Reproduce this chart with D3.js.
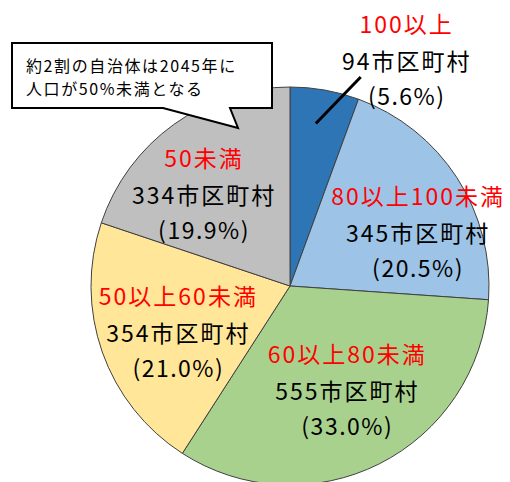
<!DOCTYPE html>
<html>
<head>
<meta charset="utf-8">
<script src="https://cdn.jsdelivr.net/npm/d3@7"></script>
<style>
  body { margin: 0; background: #fff; }
  text { font-family: "Noto Sans CJK JP", "Noto Sans", sans-serif; }
</style>
</head>
<body>
<div id="chart"></div>
<script>
// Data
const categories = ["100以上", "80以上100未満", "60以上80未満", "50以上60未満", "50未満"];
const counts = [94, 345, 555, 354, 334];
const shares = ["5.6%", "20.5%", "33.0%", "21.0%", "19.9%"];
const colors = ["#2E75B6", "#9DC3E6", "#A9D18E", "#FFE699", "#BFBFBF"];
const calloutLines = ["約2割の自治体は2045年に", "人口が50%未満となる"];

// label nudges from the centroid (layout only)
const labelShift = [[94, -98], [19, 17], [-1, -12], [11, 3], [-10, 14]];

function createPie() {
  const width = 510;
  const height = 482;
  const cx = 290, cy = 286, radius = 199;

  const svg = d3.select('#chart')
    .append('svg')
    .attr('width', width)
    .attr('height', height);

  const pie = d3.pie().sort(null).value(d => d.count);
  const arcs = pie(categories.map((c, i) => ({ cat: c, count: counts[i], share: shares[i], i })));

  const arc = d3.arc().innerRadius(0).outerRadius(radius);
  const labelArc = d3.arc().innerRadius(130).outerRadius(130);
  const leaderArc = d3.arc().innerRadius(165).outerRadius(165);

  const g = svg.append('g').attr('transform', `translate(${cx},${cy})`);

  g.selectAll('path.slice')
    .data(arcs)
    .enter()
    .append('path')
    .attr('class', 'slice')
    .attr('d', arc)
    .attr('fill', d => colors[d.data.i])
    .attr('stroke', '#404040')
    .attr('stroke-width', 1);

  // label positions
  const pos = arcs.map(d => {
    const c = labelArc.centroid(d);
    return [c[0] + labelShift[d.data.i][0], c[1] + labelShift[d.data.i][1]];
  });

  // leader line for the small slice
  const s = leaderArc.centroid(arcs[0]);
  g.append('line')
    .attr('x1', s[0] - 3).attr('y1', s[1])
    .attr('x2', pos[0][0] - 46).attr('y2', pos[0][1] + 17)
    .attr('stroke', '#000')
    .attr('stroke-width', 3);

  const labels = g.selectAll('g.label')
    .data(arcs)
    .enter()
    .append('g')
    .attr('class', 'label')
    .attr('transform', d => `translate(${pos[d.data.i][0]},${pos[d.data.i][1]})`);

  const lineText = [
    d => d.data.cat,
    d => d.data.count + '市区町村',
    d => '(' + d.data.share + ')'
  ];
  const lineDy = [-37, 0, 35];
  const lineColor = ['#FF0000', '#000', '#000'];

  lineText.forEach((fn, k) => {
    labels.append('text')
      .attr('y', lineDy[k])
      .attr('text-anchor', 'middle')
      .attr('dominant-baseline', 'central')
      .attr('font-size', 23)
      .attr('letter-spacing', k === 2 ? 1.5 : 2)
      .attr('fill', lineColor[k])
      .text(fn);
  });

  // callout box
  const box = { x0: 12, y0: 43, x1: 272, y1: 108 };
  const tail = [[230, 108], [238, 128], [163, 108]];
  const p = d3.path();
  p.moveTo(box.x0, box.y0);
  p.lineTo(box.x1, box.y0);
  p.lineTo(box.x1, box.y1);
  tail.forEach(t => p.lineTo(t[0], t[1]));
  p.lineTo(box.x0, box.y1);
  p.closePath();
  svg.append('path')
    .attr('d', p.toString())
    .attr('fill', '#fff')
    .attr('stroke', '#000')
    .attr('stroke-width', 2);

  svg.selectAll('text.callout')
    .data(calloutLines)
    .enter()
    .append('text')
    .attr('class', 'callout')
    .attr('x', 26)
    .attr('y', (d, i) => 65 + i * 23)
    .attr('dominant-baseline', 'central')
    .attr('font-size', 16)
    .attr('letter-spacing', 1.6)
    .attr('fill', '#000')
    .text(d => d);
}

createPie();
</script>
</body>
</html>
